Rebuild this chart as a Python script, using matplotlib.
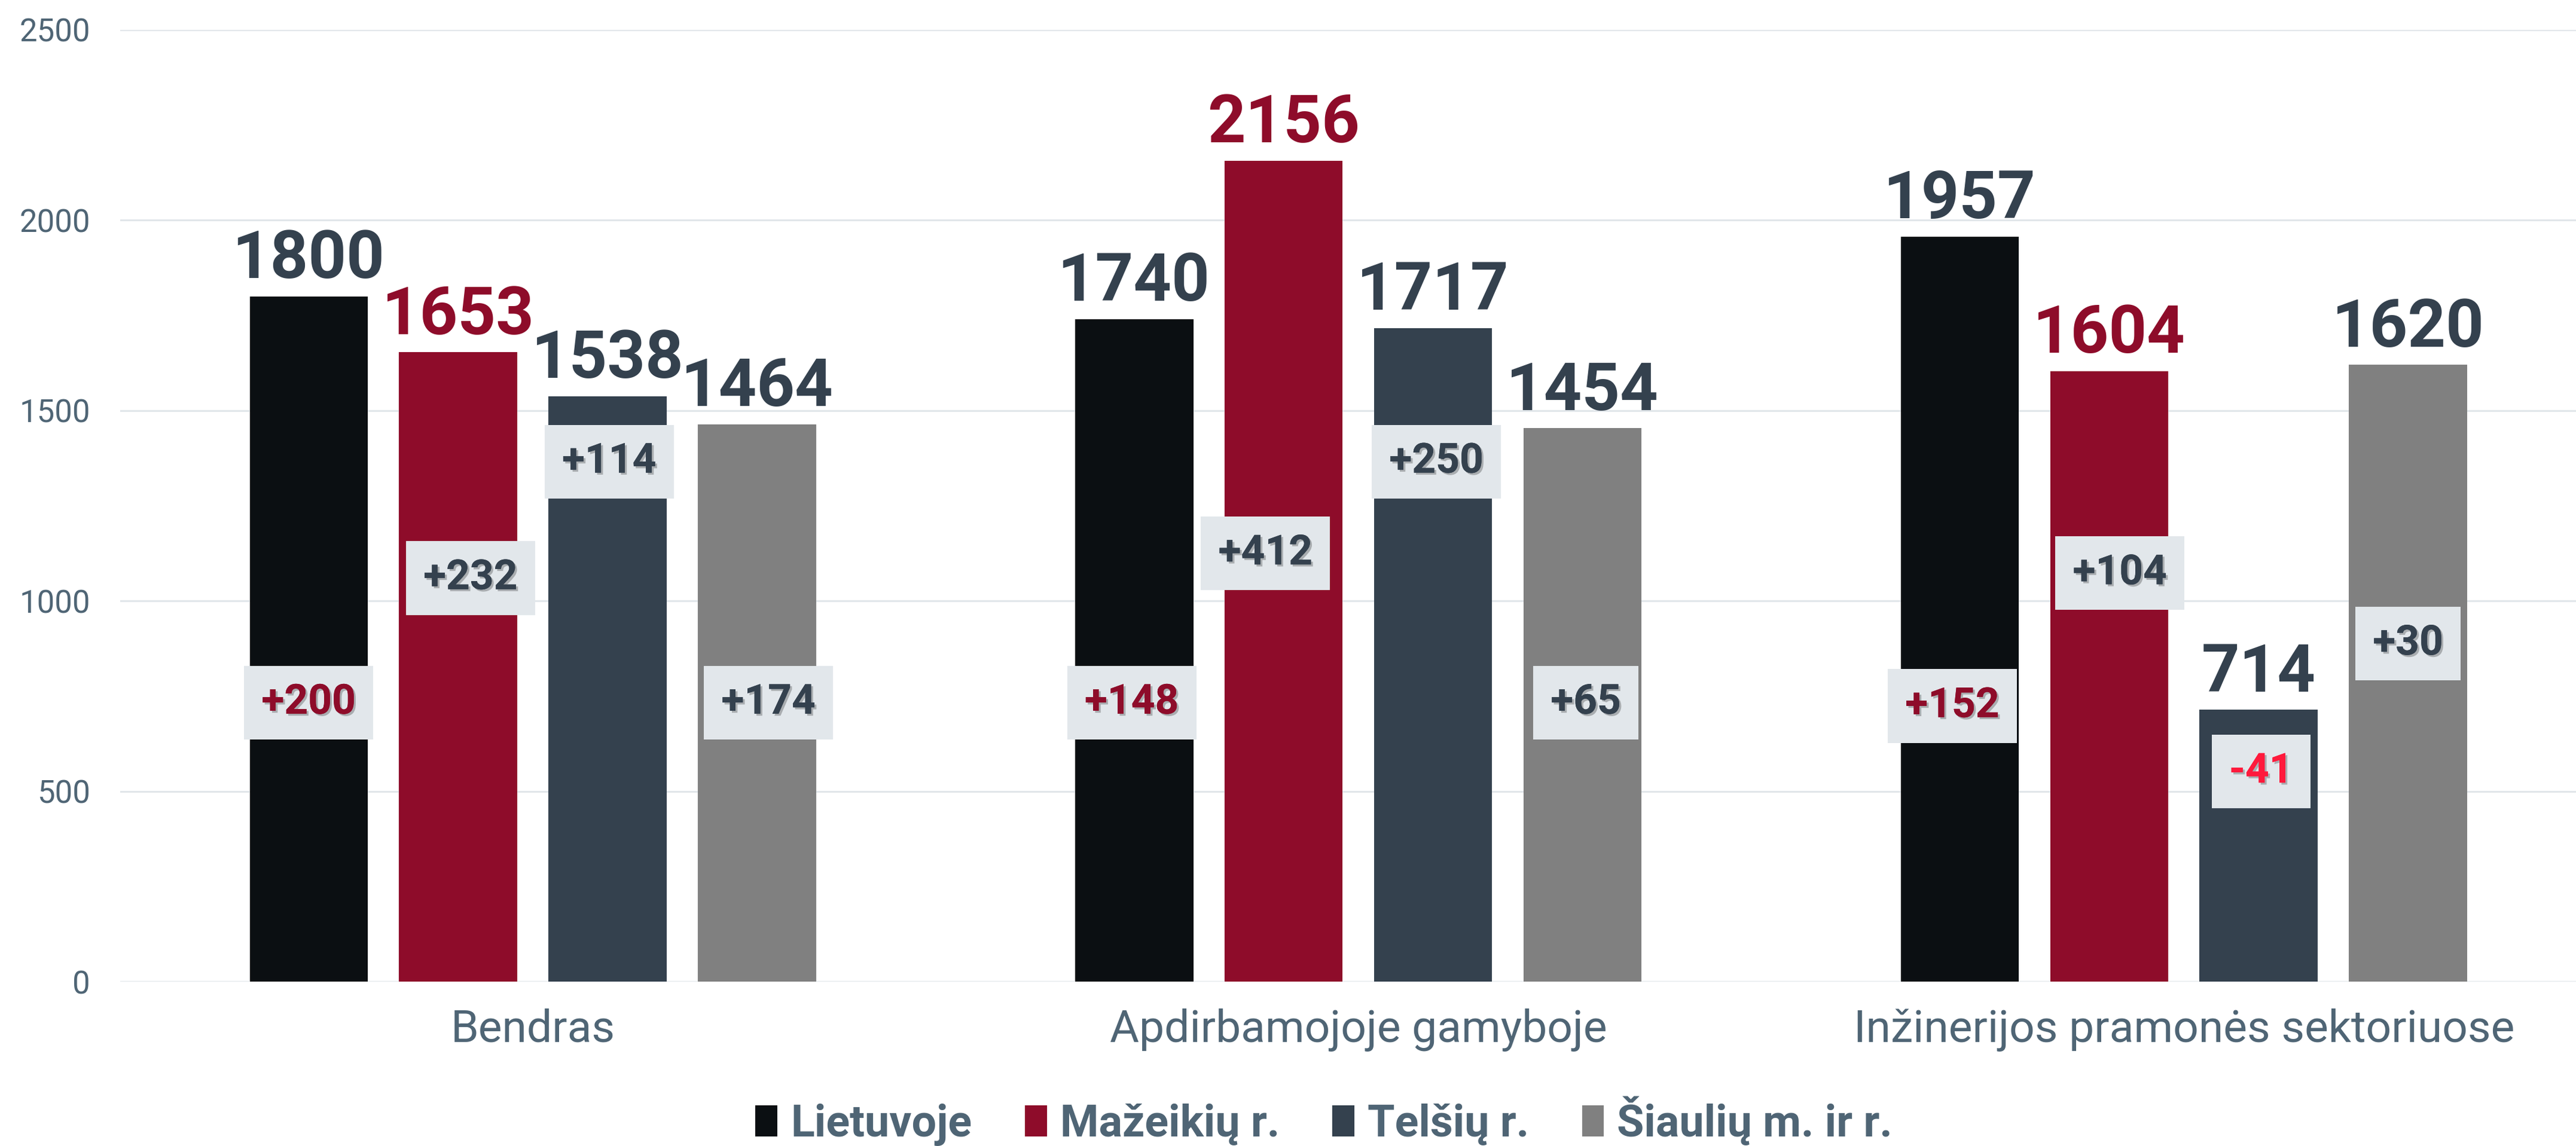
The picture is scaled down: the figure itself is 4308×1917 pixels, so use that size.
import matplotlib
matplotlib.use("Agg")
import matplotlib.pyplot as plt
from matplotlib.patches import Patch
import matplotlib.patheffects as pe
import numpy as np

categories = ["Bendras", "Apdirbamojoje gamyboje", "Inžinerijos pramonės sektoriuose"]
series = ["Lietuvoje", "Mažeikių r.", "Telšių r.", "Šiaulių m. ir r."]
values = {
    "Lietuvoje": [1800, 1740, 1957],
    "Mažeikių r.": [1653, 2156, 1604],
    "Telšių r.": [1538, 1717, 714],
    "Šiaulių m. ir r.": [1464, 1454, 1620],
}
changes = {
    "Lietuvoje": ["+200", "+148", "+152"],
    "Mažeikių r.": ["+232", "+412", "+104"],
    "Telšių r.": ["+114", "+250", "-41"],
    "Šiaulių m. ir r.": ["+174", "+65", "+30"],
}
y_ticks = [0, 500, 1000, 1500, 2000, 2500]

# layout: vertical centre (data units) of each change label, and small x shifts
change_y = {
    "Lietuvoje": [733, 733, 724],
    "Mažeikių r.": [1060, 1125, 1073],
    "Telšių r.": [1366, 1366, 552],
    "Šiaulių m. ir r.": [733, 733, 888],
}
change_dx = {
    "Lietuvoje": [0.0, -0.003, -0.009],
    "Mažeikių r.": [0.015, -0.022, 0.013],
    "Telšių r.": [0.002, 0.004, 0.003],
    "Šiaulių m. ir r.": [0.014, 0.004, 0.0],
}

colors = {
    "Lietuvoje": "#0b0f12",
    "Mažeikių r.": "#8e0c2a",
    "Telšių r.": "#34414e",
    "Šiaulių m. ir r.": "#808080",
}
value_colors = {
    "Lietuvoje": "#34414e",
    "Mažeikių r.": "#8e0c2a",
    "Telšių r.": "#34414e",
    "Šiaulių m. ir r.": "#34414e",
}
SLATE = "#34414e"
AXIS_TXT = "#4f6575"

plt.rcParams["font.family"] = ["Roboto", "DejaVu Sans"]

fig = plt.figure(figsize=(21.54, 9.585), dpi=200)
ax = fig.add_axes([0.0466, 0.1433, 0.9534, 0.8307])

x = np.arange(len(categories))
spacing = 0.181
width = 0.143
offsets = (np.arange(len(series)) - 1.5) * spacing

for i, s in enumerate(series):
    xs = x + offsets[i]
    ax.bar(xs, values[s], width=width, color=colors[s], zorder=3)
    for j, v in enumerate(values[s]):
        ax.annotate(str(v), (xs[j], v), xytext=(0, 11), textcoords="offset points",
                    ha="center", va="baseline", fontsize=40, fontweight="bold",
                    color=value_colors[s], zorder=5)
        ch = changes[s][j]
        if ch.startswith("-"):
            tc = "#ff1a3c"
        elif s == "Lietuvoje":
            tc = "#8e0c2a"
        else:
            tc = SLATE
        t = ax.text(xs[j] + change_dx[s][j], change_y[s][j], ch, ha="center", va="center",
                    fontsize=25, fontweight="bold", color=tc, zorder=6,
                    bbox=dict(boxstyle="square,pad=0.42", facecolor="#e2e7eb",
                              edgecolor="none"))
        t.set_path_effects([pe.withSimplePatchShadow(offset=(1.2, -1.2), shadow_rgbFace="#000000",
                                                     alpha=0.25), pe.Normal()])

ax.set_xlim(-0.5, 2.475)
ax.set_ylim(0, 2500)
ax.set_yticks(y_ticks)
ax.set_yticklabels([str(t) for t in y_ticks])
ax.set_xticks(x)
ax.set_xticklabels(categories)
ax.tick_params(axis="y", length=0, pad=18, labelsize=19, labelcolor=AXIS_TXT)
ax.tick_params(axis="x", length=0, pad=16, labelsize=27, labelcolor=AXIS_TXT)
ax.yaxis.grid(True, color="#e1e6ea", linewidth=1.1, zorder=0)
ax.set_axisbelow(True)
for sp in ax.spines.values():
    sp.set_visible(False)

handles = [Patch(facecolor=colors[s], edgecolor="none", label=s) for s in series]
leg = fig.legend(handles=handles, loc="center", bbox_to_anchor=(0.514, 0.022), ncol=4,
                 frameon=False, handlelength=0.5, handleheight=0.7, handletextpad=0.3,
                 columnspacing=1.2, prop={"size": 26.5, "weight": "bold"})
for txt in leg.get_texts():
    txt.set_color(AXIS_TXT)

fig.savefig("out.png", dpi=200, facecolor="white")
